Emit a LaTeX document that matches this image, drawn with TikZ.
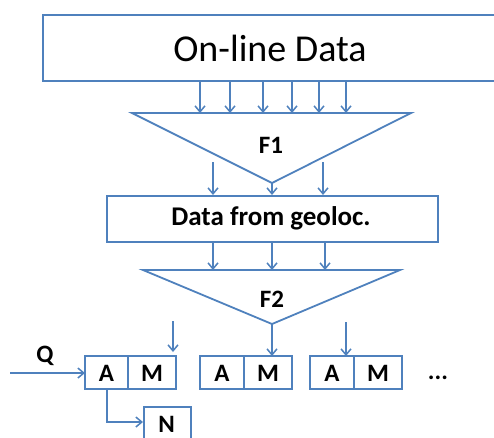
\documentclass[tikz,border=0pt]{standalone}
\usepackage{fontspec}
\setmainfont{Carlito}
\usetikzlibrary{arrows.meta}
\definecolor{lineblue}{RGB}{79,129,189}
\tikzset{
  ln/.style={draw=lineblue, line width=1.8pt},
  arr/.style={ln, -{Straight Barb[length=6pt,width=10pt,line width=1.5pt]}},
  box/.style={ln, rectangle, inner sep=0pt, anchor=north west},
  lbl/.style={font=\bfseries\fontsize{25}{27}\selectfont, text=black, inner sep=0pt}
}
\begin{document}
\begin{tikzpicture}[x=1pt,y=-1pt]
\useasboundingbox (0,0) rectangle (494,437);
\clip (0,0) rectangle (494,437);
% top box
\node[box, minimum width=470pt, minimum height=66pt] (online) at (42,14) {};
\node[font=\fontsize{38}{40}\selectfont, inner sep=0pt] (onlinetxt) at (270,48) {On-line Data};
% F1 triangle
\coordinate (f1l) at (132,113);
\coordinate (f1r) at (411,113);
\coordinate (f1a) at (272,183);
\draw[ln] (f1l) -- (f1r) -- (f1a) -- cycle;
\node[lbl] (f1) at (271,145) {F1};
\foreach \x [count=\i] in {200,230,263,292,319,346} {
  \coordinate (s\i) at (\x,80);
  \coordinate (e\i) at (\x,113);
  \draw[arr] (s\i) -- (e\i);
}
% box 2
\node[box, minimum width=331pt, minimum height=46pt] (geo) at (106,195) {};
\node[lbl, font=\bfseries\fontsize{27}{29}\selectfont] (geotxt) at (271,218) {Data from geoloc.};
\coordinate (g1s) at (213,162); \coordinate (g1e) at (213,195);
\coordinate (g3s) at (323,162); \coordinate (g3e) at (323,195);
\coordinate (g2e) at (272,195);
\draw[arr] (g1s) -- (g1e);
\draw[arr] (g3s) -- (g3e);
\draw[arr] (f1a) -- (g2e);
% F2 triangle
\coordinate (f2l) at (143,270);
\coordinate (f2r) at (400,270);
\coordinate (f2a) at (272,324);
\draw[ln] (f2l) -- (f2r) -- (f2a) -- cycle;
\node[lbl] (f2) at (272,299) {F2};
\foreach \x [count=\i] in {213,272,325} {
  \coordinate (t\i) at (\x,241);
  \coordinate (u\i) at (\x,270);
  \draw[arr] (t\i) -- (u\i);
}
% AM boxes
\foreach \n/\xa/\xm/\xb in {1/85/128/176, 2/200/244/292, 3/310/354/402} {
  \draw[ln] (\xa,356) rectangle (\xb,389);
  \draw[ln] (\xm,356) -- (\xm,389);
  \node[lbl] (a\n) at ({(\xa+\xm)/2},373) {A};
  \node[lbl] (m\n) at ({(\xm+\xb)/2},373) {M};
}
\coordinate (in1s) at (173,321); \coordinate (in1e) at (173,352);
\coordinate (in3s) at (346,322); \coordinate (in3e) at (346,356);
\coordinate (in2e) at (272,356);
\draw[arr] (in1s) -- (in1e);
\draw[arr] (f2a) -- (in2e);
\draw[arr] (in3s) -- (in3e);
\node[lbl] (dots) at (438,378) {...};
% Q
\node[lbl] (q) at (45,356) {Q};
\coordinate (qs) at (10,373);
\coordinate (qe) at (85,373);
\draw[arr] (qs) -- (qe);
% N
\node[box, minimum width=47pt, minimum height=50pt] (nbox) at (143,406) {};
\node[lbl] (n) at (166.5,424) {N};
\coordinate (as) at (107,389);
\coordinate (ac) at (107,422);
\coordinate (ne) at (143,422);
\draw[arr] (as) -- (ac) -- (ne);
\end{tikzpicture}
\end{document}
